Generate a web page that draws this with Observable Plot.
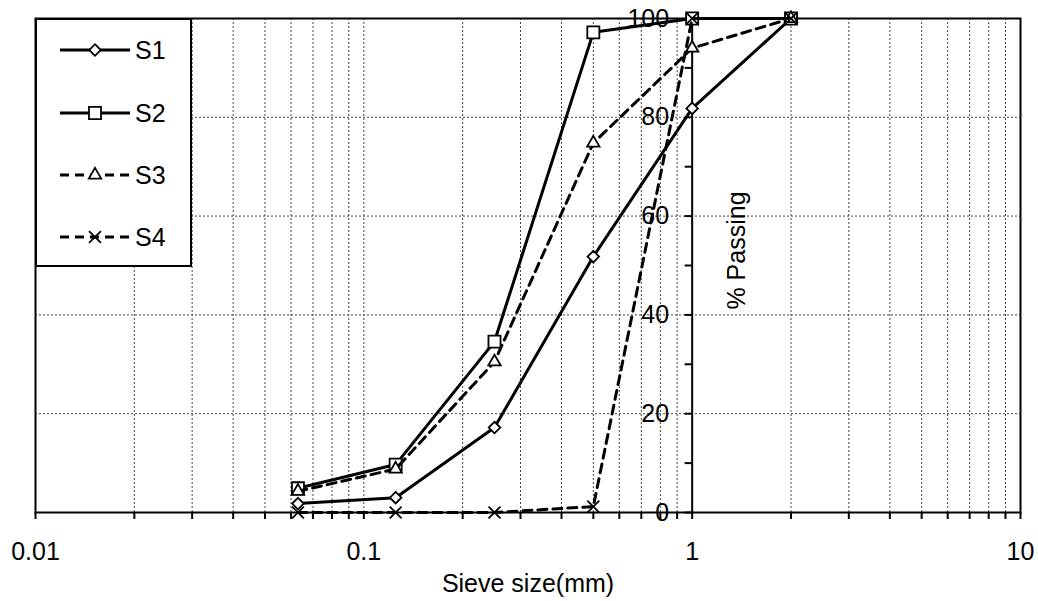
<!DOCTYPE html>
<html>
<head>
<meta charset="utf-8">
<script src="https://cdn.jsdelivr.net/npm/d3@7"></script>
<script src="https://cdn.jsdelivr.net/npm/@observablehq/plot@0.6"></script>
<style>
  body { margin: 0; background: #fff; }
  #chart { position: relative; width: 1038px; height: 601px; font-family: "Liberation Sans", Arial, sans-serif; }
  #legend { position: absolute; left: 35px; top: 18px; }
</style>
</head>
<body>
<div id="chart"></div>
<script>
// Sieve sizes (mm) and cumulative % passing for each sample
const sieveSizes = [0.063, 0.125, 0.25, 0.5, 1, 2];
const s1 = [1.8, 3.0, 17.2, 51.8, 81.8, 100];
const s2 = [4.9, 9.7, 34.6, 97.2, 100, 100];
const s3 = [4.3, 8.8, 30.5, 74.8, 94.0, 100];
const s4 = [0, 0, 0, 1.2, 100, 100];
const seriesNames = ["S1", "S2", "S3", "S4"];

// Axis ticks
const xDecades = [0.01, 0.1, 1, 10];
const xDecadeLabels = ["0.01", "0.1", "1", "10"];
const yMajorTicks = [0, 20, 40, 60, 80, 100];
const yMinorTicks = [10, 30, 50, 70, 90];
const yGridValues = [20, 40, 60, 80];

// minor log ticks: 2..9 within each decade
const xMinor = xDecades.slice(0, -1).flatMap(d => d3.range(2, 10).map(k => +(d * k).toPrecision(3)));
const xAllTicks = [...xDecades, ...xMinor].sort((a, b) => a - b);
const xGrid = [...xMinor, 0.1];

const seriesValues = [s1, s2, s3, s4];
const rows = seriesNames.flatMap((name, i) =>
  sieveSizes.map((size, j) => ({series: name, size, passing: seriesValues[i][j]})));

const styles = {
  S1: {symbol: "diamond2", r: 5.2, dash: null},
  S2: {symbol: "square", r: 6.8, dash: null},
  S3: {symbol: "triangle", r: 4.6, dash: "9,6"},
  S4: {symbol: "times", r: 5.5, dash: "9,6"}
};

const font = 25;
const fontFamily = '"Liberation Sans", Arial, sans-serif';
const lineWidth = 3;
const markerWidth = 1.8;

const seriesMarks = seriesNames.flatMap(name => {
  const data = rows.filter(d => d.series === name);
  const st = styles[name];
  return [
    Plot.line(data, {x: "size", y: "passing", stroke: "black", strokeWidth: lineWidth,
      strokeDasharray: st.dash ?? undefined}),
    Plot.dot(data, {x: "size", y: "passing", symbol: () => st.symbol, r: st.r,
      fill: st.symbol === "times" ? "none" : "white", stroke: "black", strokeWidth: markerWidth})
  ];
});

const chart = Plot.plot({
  width: 1038,
  height: 601,
  marginLeft: 35,
  marginRight: 18,
  marginTop: 18,
  marginBottom: 89,
  style: {fontFamily, fontSize: font + "px", background: "#fff", color: "#000"},
  x: {type: "log", domain: [0.01, 10]},
  y: {domain: [0, 100], axis: null},
  marks: [
    // dotted grid
    Plot.ruleX(xGrid, {stroke: "#444", strokeWidth: 1, strokeDasharray: "2,2"}),
    Plot.ruleY(yGridValues, {stroke: "#444", strokeWidth: 1, strokeDasharray: "2,2"}),
    Plot.frame({stroke: "black", strokeWidth: 2}),
    // bottom axis: ticks at every log step, labels at decades
    Plot.axisX(xAllTicks, {
      anchor: "bottom", tickSize: 7, tickPadding: 23, strokeWidth: 2, fontSize: font,
      tickFormat: d => { const i = xDecades.indexOf(d); return i >= 0 ? xDecadeLabels[i] : ""; },
      label: null
    }),
    Plot.text(["Sieve size(mm)"], {frameAnchor: "bottom", dy: 79, fontSize: font}),
    // vertical axis crossing at 1 mm
    Plot.ruleX([1], {stroke: "black", strokeWidth: 2}),
    Plot.ruleY([...yMajorTicks, ...yMinorTicks], {x1: 1, x2: 1, insetLeft: -7, stroke: "black", strokeWidth: 2}),
    Plot.text(yMajorTicks, {x: 1, y: d => d, text: d => String(d), dx: -23, textAnchor: "end", fontSize: font}),
    Plot.text(["% Passing"], {x: [1], dx: 45, dy: -15, rotate: -90, fontSize: font}),
    ...seriesMarks
  ]
});

const host = document.getElementById("chart");
host.appendChild(chart);

// legend box overlaid on the top-left of the plot area
const lw = 157, lh = 249;
const legend = d3.select(host).append("svg")
  .attr("id", "legend").attr("width", lw).attr("height", lh);
legend.append("rect").attr("x", 1).attr("y", 1).attr("width", lw - 2).attr("height", lh - 2)
  .attr("fill", "white").attr("stroke", "black").attr("stroke-width", 2);
const symbolTypes = {diamond2: d3.symbolDiamond2, square: d3.symbolSquare, triangle: d3.symbolTriangle, times: d3.symbolTimes};
const rowY = [32, 95, 157, 219];
seriesNames.forEach((name, i) => {
  const st = styles[name];
  const g = legend.append("g").attr("transform", `translate(0,${rowY[i]})`);
  g.append("line").attr("x1", 25).attr("x2", 95).attr("stroke", "black").attr("stroke-width", lineWidth)
    .attr("stroke-dasharray", st.dash);
  g.append("path").attr("transform", "translate(60,0)")
    .attr("d", d3.symbol(symbolTypes[st.symbol], Math.PI * st.r * st.r)())
    .attr("fill", st.symbol === "times" ? "none" : "white").attr("stroke", "black").attr("stroke-width", markerWidth);
  g.append("text").attr("x", 100).attr("dy", "0.35em").attr("font-size", font)
    .attr("font-family", fontFamily).text(name);
});
</script>
</body>
</html>
